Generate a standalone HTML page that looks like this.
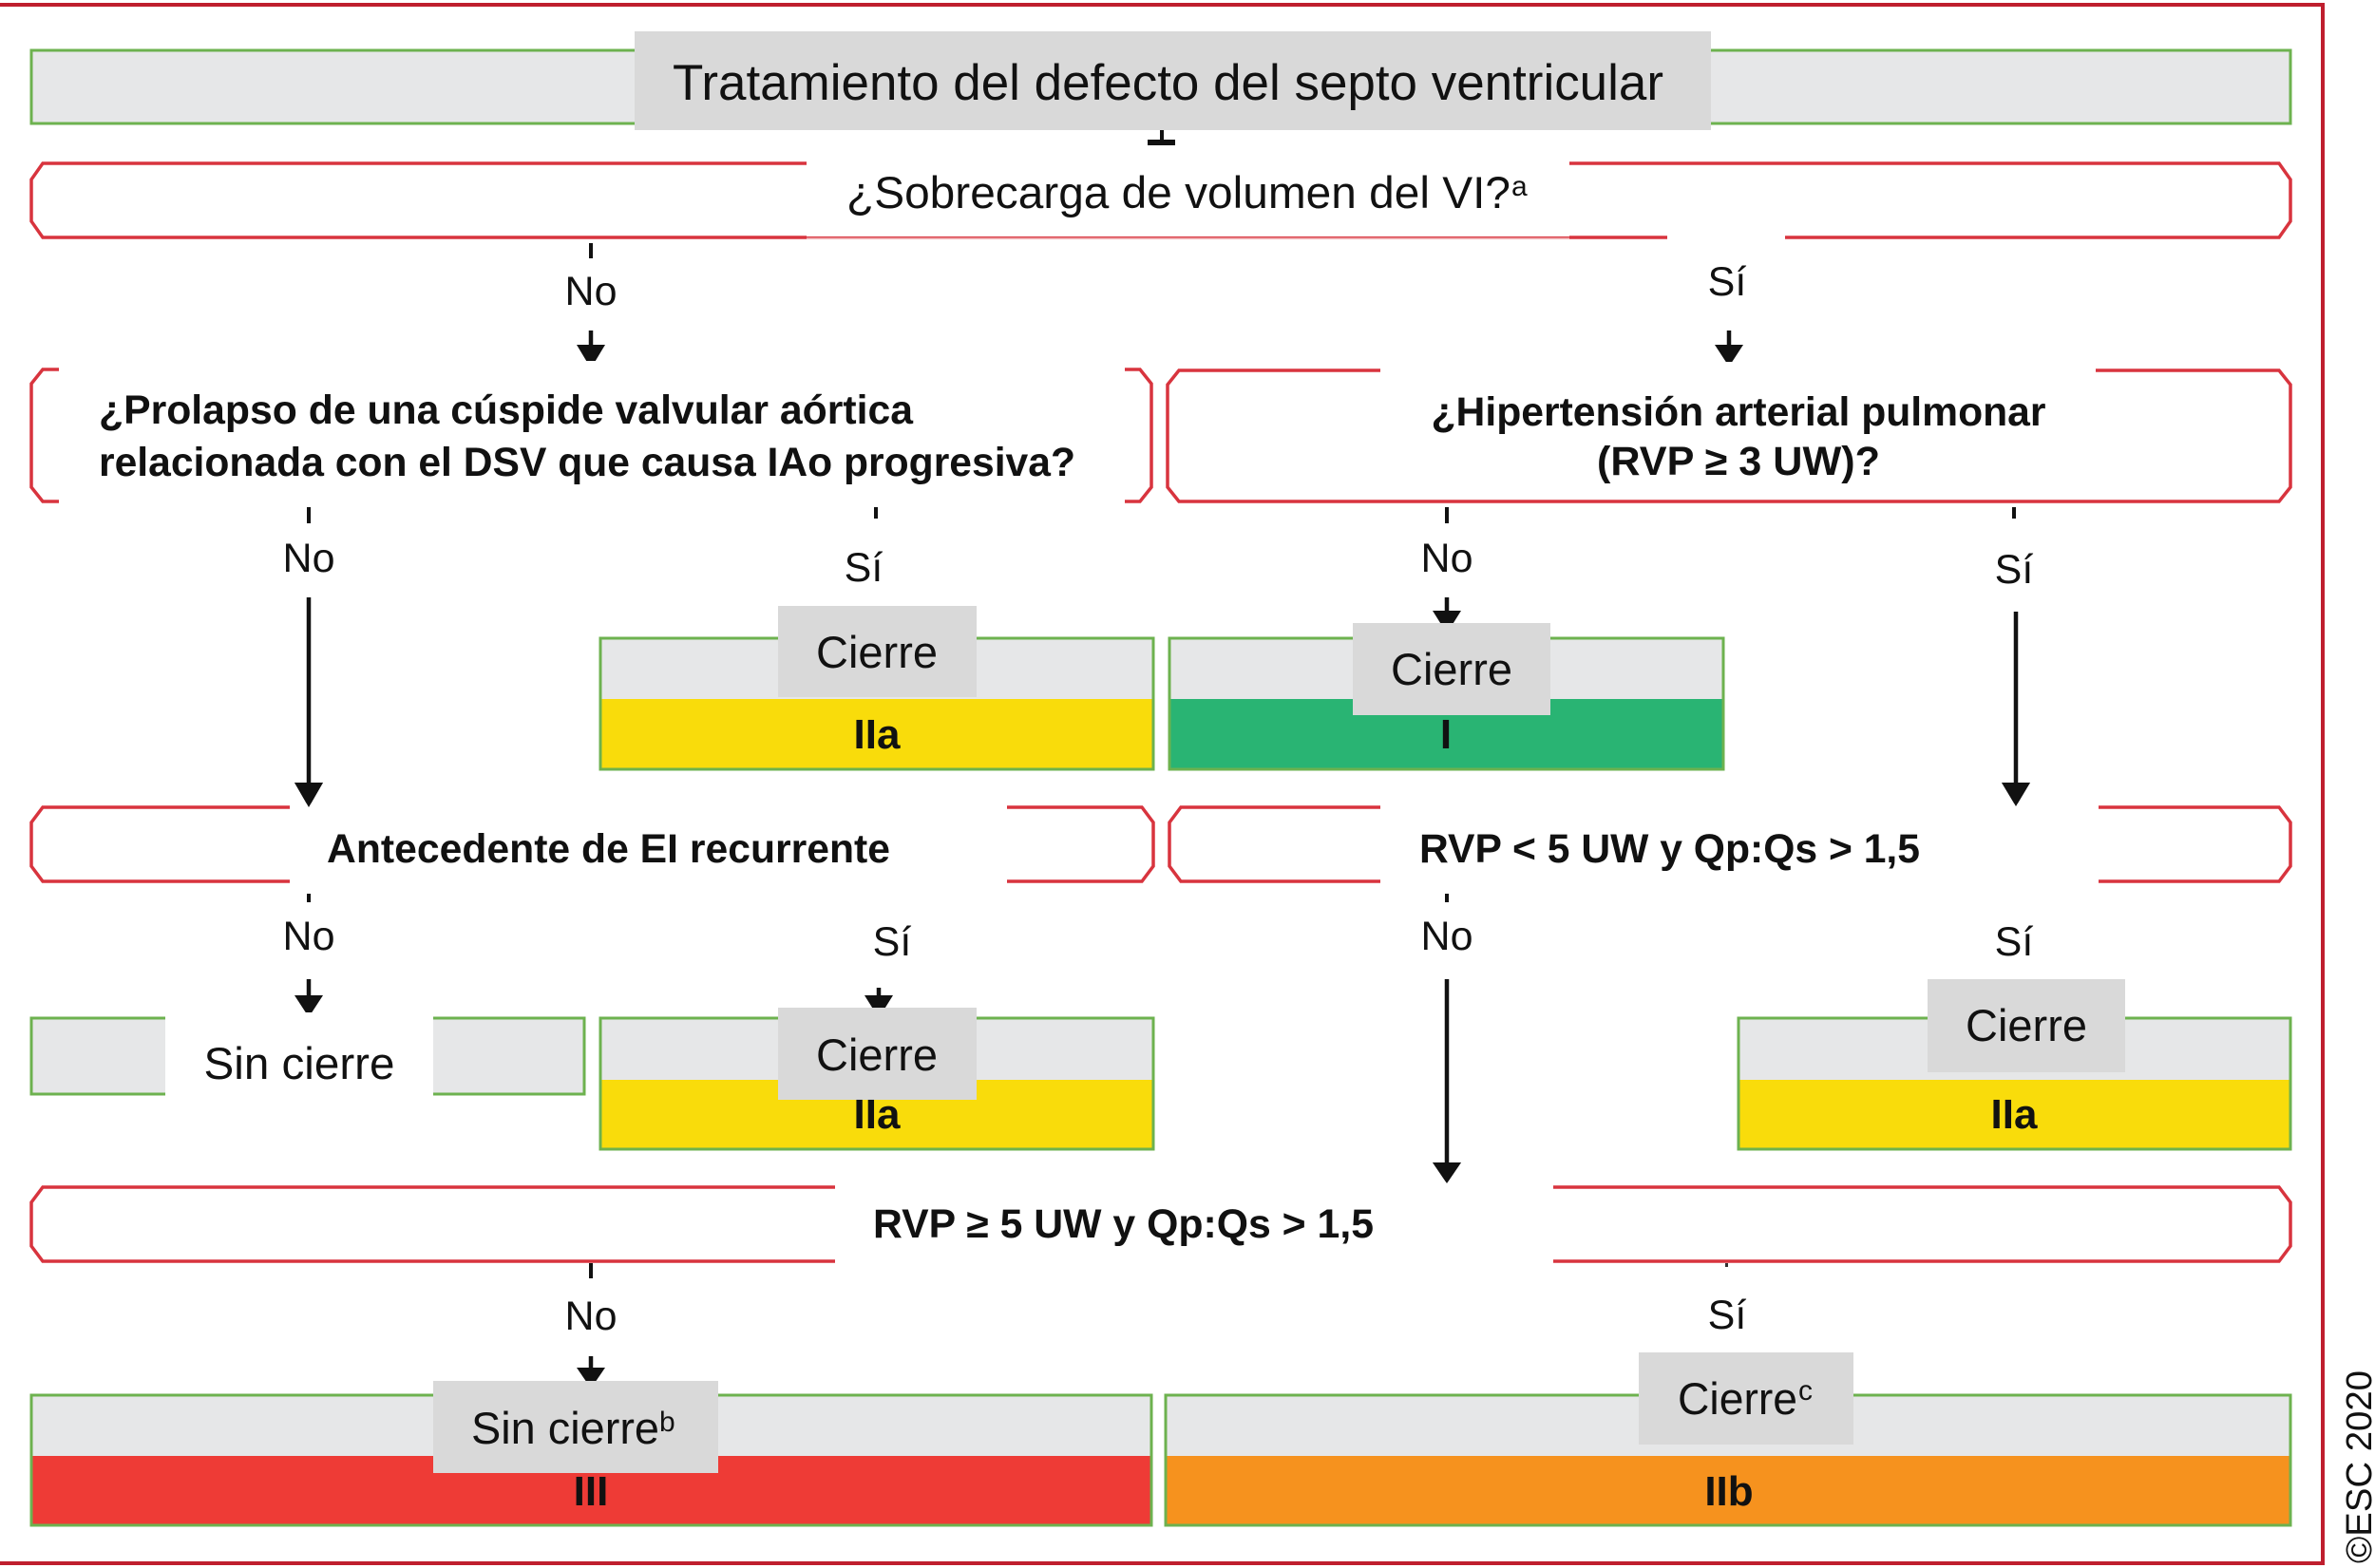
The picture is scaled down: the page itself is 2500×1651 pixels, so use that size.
<!DOCTYPE html>
<html>
<head>
<meta charset="utf-8">
<style>
  html,body{margin:0;padding:0;background:#fff;}
  svg{display:block;}
  text{font-family:"Liberation Sans", Arial, sans-serif;fill:#111;}
  .b{font-weight:bold;}
</style>
</head>
<body>
<svg width="2500" height="1651" viewBox="0 0 2500 1651" xmlns="http://www.w3.org/2000/svg">
  <rect x="0" y="0" width="2500" height="1651" fill="#fff"/>

  <!-- outer frame -->
  <line x1="0" y1="5" x2="2447" y2="5" stroke="#bf1e2e" stroke-width="4"/>
  <line x1="2445" y1="3" x2="2445" y2="1648" stroke="#bf1e2e" stroke-width="4"/>
  <line x1="0" y1="1646" x2="2447" y2="1646" stroke="#bf1e2e" stroke-width="4"/>

  <!-- Title -->
  <rect x="33" y="53" width="2378" height="77" fill="#e6e7e8" stroke="#6db24f" stroke-width="3"/>
  <rect x="668" y="33" width="1133" height="104" fill="#d9d9d9"/>
  <text x="708" y="105" font-size="53" textLength="1043" lengthAdjust="spacingAndGlyphs">Tratamiento del defecto del septo ventricular</text>
  <line x1="1223" y1="137" x2="1223" y2="150" stroke="#111" stroke-width="4"/>
  <rect x="1208" y="147" width="29" height="6" fill="#111"/>

  <!-- Row 2 -->
  <path d="M45,172 H2399 L2411,189 V233 L2399,250 H45 L33,233 V189 Z" fill="#fff" stroke="#d8343e" stroke-width="3.5"/>
  <rect x="849" y="162" width="803" height="87" fill="#fff"/>
  <line x1="849" y1="251" x2="1652" y2="251" stroke="#f2b8bc" stroke-width="1.5"/>
  <rect x="1755" y="244" width="124" height="12" fill="#fff"/>
  <text x="891" y="219" font-size="47.5" textLength="699" lengthAdjust="spacingAndGlyphs">¿Sobrecarga de volumen del VI?</text>
  <text x="1591" y="206" font-size="30">a</text>

  <!-- Row 2 -> 3 connectors -->
  <line x1="622" y1="256" x2="622" y2="272" stroke="#111" stroke-width="4"/>
  <text x="622" y="321" font-size="43" text-anchor="middle">No</text>
  <line x1="622" y1="348" x2="622" y2="366" stroke="#111" stroke-width="4.5"/>
  <polygon points="607,363 637,363 622,388" fill="#111"/>

  <text x="1818" y="311" font-size="43" text-anchor="middle">Sí</text>
  <line x1="1820" y1="348" x2="1820" y2="366" stroke="#111" stroke-width="4.5"/>
  <polygon points="1805,363 1835,363 1820,386" fill="#111"/>

  <!-- Row 3 left -->
  <path d="M45,389 H1200 L1212,404 V513 L1200,528 H45 L33,513 V404 Z" fill="#fff" stroke="#d8343e" stroke-width="3.5"/>
  <rect x="62" y="380" width="1122" height="152" fill="#fff"/>
  <text class="b" x="104" y="446" font-size="42.6" textLength="857" lengthAdjust="spacingAndGlyphs">¿Prolapso de una cúspide valvular aórtica</text>
  <text class="b" x="104" y="501" font-size="42.6" textLength="1028" lengthAdjust="spacingAndGlyphs">relacionada con el DSV que causa IAo progresiva?</text>

  <!-- Row 3 right -->
  <path d="M1241,390 H2399 L2411,405 V513 L2399,528 H1241 L1229,513 V405 Z" fill="#fff" stroke="#d8343e" stroke-width="3.5"/>
  <rect x="1453" y="381" width="753" height="30" fill="#fff"/>
  <text class="b" x="1830" y="448" font-size="42.6" text-anchor="middle" textLength="647" lengthAdjust="spacingAndGlyphs">¿Hipertensión arterial pulmonar</text>
  <text class="b" x="1830" y="500" font-size="42.6" text-anchor="middle" textLength="298" lengthAdjust="spacingAndGlyphs">(RVP ≥ 3 UW)?</text>

  <!-- Row 3 -> 4 connectors -->
  <line x1="325" y1="534" x2="325" y2="551" stroke="#111" stroke-width="4"/>
  <line x1="922" y1="534" x2="922" y2="546" stroke="#111" stroke-width="4"/>
  <line x1="1523" y1="534" x2="1523" y2="551" stroke="#111" stroke-width="4"/>
  <line x1="2120" y1="534" x2="2120" y2="546" stroke="#111" stroke-width="4"/>

  <text x="325" y="602" font-size="43" text-anchor="middle">No</text>
  <text x="909" y="612" font-size="43" text-anchor="middle">Sí</text>
  <text x="1523" y="602" font-size="43" text-anchor="middle">No</text>
  <text x="2120" y="614" font-size="43" text-anchor="middle">Sí</text>

  <line x1="325" y1="629" x2="325" y2="828" stroke="#111" stroke-width="4.5"/>
  <polygon points="310,824 340,824 325,850" fill="#111"/>

  <line x1="1523" y1="629" x2="1523" y2="646" stroke="#111" stroke-width="4.5"/>
  <polygon points="1508,643 1538,643 1523,667" fill="#111"/>

  <line x1="2122" y1="644" x2="2122" y2="828" stroke="#111" stroke-width="4.5"/>
  <polygon points="2107,824 2137,824 2122,849" fill="#111"/>

  <!-- Row 3 results -->
  <rect x="632" y="672" width="582" height="64" fill="#e6e7e8"/>
  <rect x="632" y="736" width="582" height="74" fill="#f9dc0b"/>
  <rect x="632" y="672" width="582" height="138" fill="none" stroke="#6db24f" stroke-width="3"/>
  <rect x="819" y="638" width="209" height="96" fill="#d9d9d9"/>
  <text x="923" y="703" font-size="47" text-anchor="middle">Cierre</text>
  <text class="b" x="923" y="788" font-size="44" text-anchor="middle">IIa</text>

  <rect x="1231" y="672" width="583" height="64" fill="#e6e7e8"/>
  <rect x="1231" y="736" width="583" height="74" fill="#29b473"/>
  <rect x="1231" y="672" width="583" height="138" fill="none" stroke="#6db24f" stroke-width="3"/>
  <text class="b" x="1522" y="788" font-size="44" text-anchor="middle">I</text>
  <rect x="1424" y="656" width="208" height="97" fill="#d9d9d9"/>
  <text x="1528" y="721" font-size="47" text-anchor="middle">Cierre</text>

  <!-- Row 4 -->
  <path d="M45,850 H1202 L1214,866 V912 L1202,928 H45 L33,912 V866 Z" fill="#fff" stroke="#d8343e" stroke-width="3.5"/>
  <rect x="305" y="846" width="755" height="87" fill="#fff"/>
  <text class="b" x="344" y="908" font-size="42.6" textLength="593" lengthAdjust="spacingAndGlyphs">Antecedente de EI recurrente</text>

  <path d="M1243,850 H2399 L2411,866 V912 L2399,928 H1243 L1231,912 V866 Z" fill="#fff" stroke="#d8343e" stroke-width="3.5"/>
  <rect x="1453" y="846" width="756" height="87" fill="#fff"/>
  <text class="b" x="1494" y="908" font-size="42.6" textLength="527" lengthAdjust="spacingAndGlyphs">RVP &lt; 5 UW y Qp:Qs &gt; 1,5</text>

  <!-- arrow tips touching row 4 -->
  <polygon points="310,824 340,824 325,850" fill="#111"/>
  <polygon points="2107,824 2137,824 2122,849" fill="#111"/>

  <!-- Row 4 -> 5 connectors -->
  <line x1="325" y1="941" x2="325" y2="950" stroke="#111" stroke-width="4"/>
  <line x1="1523" y1="941" x2="1523" y2="950" stroke="#111" stroke-width="4"/>
  <text x="325" y="1000" font-size="43" text-anchor="middle">No</text>
  <text x="939" y="1006" font-size="43" text-anchor="middle">Sí</text>
  <text x="1523" y="1000" font-size="43" text-anchor="middle">No</text>
  <text x="2120" y="1006" font-size="43" text-anchor="middle">Sí</text>

  <line x1="325" y1="1031" x2="325" y2="1050" stroke="#111" stroke-width="4.5"/>
  <polygon points="310,1048 340,1048 325,1071" fill="#111"/>

  <line x1="925" y1="1040" x2="925" y2="1050" stroke="#111" stroke-width="4.5"/>
  <polygon points="910,1048 940,1048 925,1072" fill="#111"/>

  <line x1="1523" y1="1031" x2="1523" y2="1228" stroke="#111" stroke-width="4.5"/>
  <polygon points="1508,1224 1538,1224 1523,1246" fill="#111"/>

  <!-- Row 5 boxes -->
  <rect x="33" y="1072" width="582" height="80" fill="#e6e7e8" stroke="#6db24f" stroke-width="3"/>
  <rect x="174" y="1066" width="282" height="90" fill="#fff"/>
  <text x="315" y="1136" font-size="47" text-anchor="middle" textLength="201" lengthAdjust="spacingAndGlyphs">Sin cierre</text>

  <rect x="632" y="1072" width="582" height="65" fill="#e6e7e8"/>
  <rect x="632" y="1137" width="582" height="73" fill="#f9dc0b"/>
  <rect x="632" y="1072" width="582" height="138" fill="none" stroke="#6db24f" stroke-width="3"/>
  <rect x="819" y="1061" width="209" height="97" fill="#d9d9d9"/>
  <text x="923" y="1127" font-size="47" text-anchor="middle">Cierre</text>
  <text class="b" x="923" y="1188" font-size="44" text-anchor="middle">IIa</text>

  <rect x="1830" y="1072" width="581" height="65" fill="#e6e7e8"/>
  <rect x="1830" y="1137" width="581" height="73" fill="#f9dc0b"/>
  <rect x="1830" y="1072" width="581" height="138" fill="none" stroke="#6db24f" stroke-width="3"/>
  <rect x="2029" y="1031" width="208" height="98" fill="#d9d9d9"/>
  <text x="2133" y="1096" font-size="47" text-anchor="middle">Cierre</text>
  <text class="b" x="2120" y="1188" font-size="44" text-anchor="middle">IIa</text>

  <!-- Row 6 -->
  <path d="M45,1250 H2399 L2411,1266 V1312 L2399,1328 H45 L33,1312 V1266 Z" fill="#fff" stroke="#d8343e" stroke-width="3.5"/>
  <rect x="879" y="1244" width="756" height="90" fill="#fff"/>
  <text class="b" x="919" y="1303" font-size="42.6" textLength="527" lengthAdjust="spacingAndGlyphs">RVP ≥ 5 UW y Qp:Qs &gt; 1,5</text>
  <polygon points="1508,1224 1538,1224 1523,1246" fill="#111"/>

  <!-- Row 6 -> 7 connectors -->
  <line x1="622" y1="1330" x2="622" y2="1346" stroke="#111" stroke-width="4"/>
  <rect x="1816" y="1330" width="3" height="4" fill="#333"/>
  <text x="622" y="1400" font-size="43" text-anchor="middle">No</text>
  <text x="1818" y="1399" font-size="43" text-anchor="middle">Sí</text>
  <line x1="622" y1="1428" x2="622" y2="1442" stroke="#111" stroke-width="4.5"/>
  <polygon points="607,1440 637,1440 622,1462" fill="#111"/>

  <!-- Row 7 boxes -->
  <rect x="33" y="1469" width="1179" height="64" fill="#e6e7e8"/>
  <rect x="33" y="1533" width="1179" height="73" fill="#ee3b36"/>
  <rect x="33" y="1469" width="1179" height="137" fill="none" stroke="#6db24f" stroke-width="3"/>
  <text class="b" x="622" y="1585" font-size="44" text-anchor="middle">III</text>
  <rect x="456" y="1454" width="300" height="97" fill="#d9d9d9"/>
  <text x="496" y="1520" font-size="47" textLength="198" lengthAdjust="spacingAndGlyphs">Sin cierre</text>
  <text x="694" y="1507" font-size="30">b</text>

  <rect x="1227" y="1469" width="1184" height="64" fill="#e6e7e8"/>
  <rect x="1227" y="1533" width="1184" height="73" fill="#f6921e"/>
  <rect x="1227" y="1469" width="1184" height="137" fill="none" stroke="#6db24f" stroke-width="3"/>
  <text class="b" x="1820" y="1585" font-size="44" text-anchor="middle">IIb</text>
  <rect x="1725" y="1424" width="226" height="97" fill="#d9d9d9"/>
  <text x="1766" y="1489" font-size="47" textLength="126" lengthAdjust="spacingAndGlyphs">Cierre</text>
  <text x="1893" y="1474" font-size="30">c</text>

  <!-- copyright -->
  <text transform="translate(2496,1646) rotate(-90)" font-size="38" textLength="203" lengthAdjust="spacingAndGlyphs">©ESC 2020</text>
</svg>
</body>
</html>
